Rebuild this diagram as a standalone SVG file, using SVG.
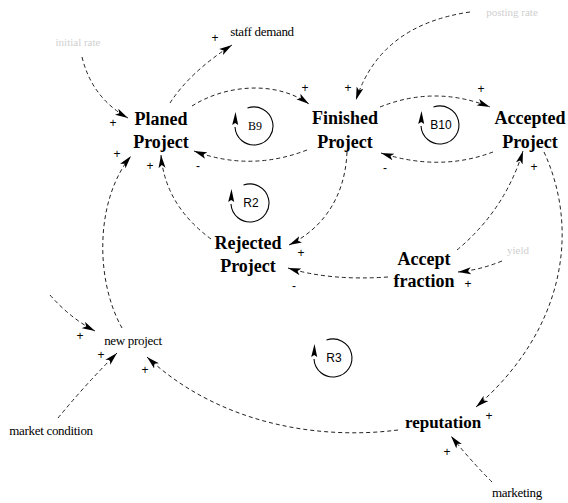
<svg xmlns="http://www.w3.org/2000/svg" width="568" height="503" viewBox="0 0 568 503">
<style>
.node{font-family:"Liberation Serif",serif;font-weight:bold;font-size:18px;fill:#000;text-anchor:middle}
.aux{font-family:"Liberation Serif",serif;font-size:13px;fill:#000;text-anchor:middle;letter-spacing:-0.3px}
.faint{font-family:"Liberation Serif",serif;font-size:11px;fill:#d0d0d0;text-anchor:middle}
.link{fill:none;stroke:#222;stroke-width:1;stroke-dasharray:4 3;marker-end:url(#arr)}
.pol{font-family:"Liberation Sans",sans-serif;font-size:12px;fill:#000;text-anchor:middle}
.loop{fill:none;stroke:#000;stroke-width:1.1}
.looplbl{font-family:"Liberation Sans",sans-serif;font-size:12px;fill:#000;text-anchor:middle}
</style>
<defs>
<marker id="arr" markerUnits="userSpaceOnUse" markerWidth="13" markerHeight="8" viewBox="0 0 13 8" refX="13" refY="4" orient="auto">
<path d="M0,0.5 L13,4 L0,7.5 L3,4 z" fill="#000"/>
</marker>
<g id="loopsym">
<path class="loop" d="M-6.5,-17.9 A19,19 0 1 1 -19,1"/>
<path d="M-18.5,-14 L-21.8,-1 L-18.8,-3 L-15.8,-1 z" fill="#000"/>
</g>
</defs>
<rect width="568" height="503" fill="#fff"/>

<g id="connectors">
<path class="link" d="M82,57 Q92,98 128,118"/>
<path class="link" d="M170,103 Q190,72 232,45"/>
<path class="link" d="M192,106 C225,85 275,80 309,104"/>
<path class="link" d="M307,150 Q250,172 194,151"/>
<path class="link" d="M470,12 Q380,25 356,100"/>
<path class="link" d="M380,107 Q435,85 490,107"/>
<path class="link" d="M493,152 Q440,172 381,153"/>
<path class="link" d="M347,152 C345,200 320,230 289,245"/>
<path class="link" d="M211,239 Q165,205 161,155"/>
<path class="link" d="M388,277 Q330,281 288,268"/>
<path class="link" d="M457,250 Q505,210 523,151"/>
<path class="link" d="M502,261 Q480,270 458,272"/>
<path class="link" d="M544,152 C580,230 565,330 476,407"/>
<path class="link" d="M398,430 C320,440 220,425 147,357"/>
<path class="link" d="M58,418 Q85,385 117,353"/>
<path class="link" d="M50,295 Q70,318 95,331"/>
<path class="link" d="M122,328 C95,280 95,200 131,156"/>
<path class="link" d="M492,482 Q470,460 451,436"/>
</g>

<g id="polarities" opacity="0.99">
<text class="pol" x="113" y="127">+</text>
<text class="pol" x="215" y="42">+</text>
<text class="pol" x="305" y="92">+</text>
<text class="pol" x="198" y="170">-</text>
<text class="pol" x="348" y="92">+</text>
<text class="pol" x="481" y="93">+</text>
<text class="pol" x="385" y="172">-</text>
<text class="pol" x="301" y="257">+</text>
<text class="pol" x="117" y="158">+</text>
<text class="pol" x="150" y="170">+</text>
<text class="pol" x="294" y="290">-</text>
<text class="pol" x="534" y="171">+</text>
<text class="pol" x="468" y="288">+</text>
<text class="pol" x="489" y="420">+</text>
<text class="pol" x="145" y="374">+</text>
<text class="pol" x="101" y="359">+</text>
<text class="pol" x="80" y="340">+</text>
<text class="pol" x="447" y="456">+</text>
</g>

<g id="loop-B9"><use href="#loopsym" x="254" y="126"/><text class="looplbl" x="255" y="130" style="font-family:'Liberation Serif',serif">B9</text></g>
<g id="loop-B10"><use href="#loopsym" x="440" y="125"/><text class="looplbl" x="441" y="129">B10</text></g>
<g id="loop-R2"><use href="#loopsym" x="250" y="203"/><text class="looplbl" x="251" y="207">R2</text></g>
<g id="loop-R3"><use href="#loopsym" x="333" y="358"/><text class="looplbl" x="334" y="362">R3</text></g>

<g id="planed-project"><text class="node" x="161" y="125">Planed</text><text class="node" x="161" y="148">Project</text></g>
<g id="finished-project"><text class="node" x="345" y="124">Finished</text><text class="node" x="345" y="148">Project</text></g>
<g id="accepted-project"><text class="node" x="530" y="124">Accepted</text><text class="node" x="530" y="148">Project</text></g>
<g id="rejected-project"><text class="node" x="248" y="249">Rejected</text><text class="node" x="248" y="272">Project</text></g>
<g id="accept-fraction"><text class="node" x="424" y="265">Accept</text><text class="node" x="424" y="287">fraction</text></g>
<g id="reputation"><text class="node" x="443" y="428" style="font-size:17px">reputation</text></g>
<g id="new-project"><text class="aux" x="133" y="345">new project</text></g>
<g id="market-condition"><text class="aux" x="51" y="435">market condition</text></g>
<g id="staff-demand"><text class="aux" x="262" y="36">staff demand</text></g>
<g id="marketing"><text class="aux" x="517" y="497">marketing</text></g>
<g id="faint-1"><text class="faint" x="78" y="46">initial rate</text></g>
<g id="faint-2"><text class="faint" x="512" y="16">posting rate</text></g>
<g id="faint-3"><text class="faint" x="518" y="254">yield</text></g>
</svg>
